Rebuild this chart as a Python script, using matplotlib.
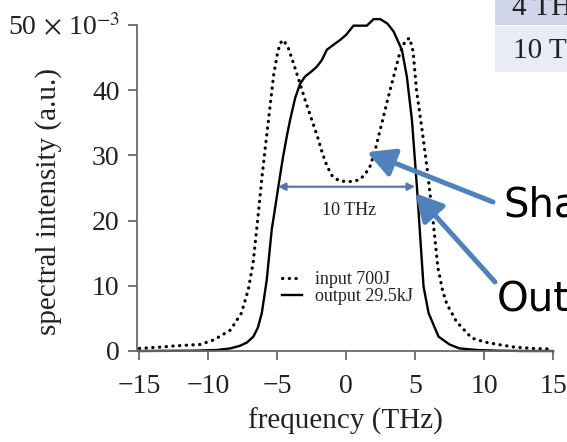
import matplotlib
matplotlib.use("Agg")
import matplotlib.pyplot as plt
from matplotlib.patches import Rectangle

# ---------------- data ----------------
freq_in = [-15, -13.5, -12.3, -10.6, -9.6, -8.4, -7.6, -7.1, -6.75, -6.4, -6.1, -5.85, -5.55, -5.25, -4.95,
           -4.75, -4.55, -4.2, -3.8, -3.35, -2.9, -2.5, -2.1, -1.75, -1.4, -1.0, -0.5, 0.0, 0.5, 1.0, 1.4,
           1.75, 2.1, 2.7, 3.0, 3.44, 3.9, 4.3, 4.6, 4.85, 5.1, 5.5, 5.9, 6.3, 6.65, 7.0, 7.3, 8.0, 9.1,
           10.0, 11.0, 12.2, 13.5, 15]
spec_in = [0.4, 0.6, 0.8, 1.0, 1.7, 3.2, 5.8, 9.4, 13.5, 20.5, 26.8, 31.5, 37.0, 42.5, 46.0,
           47.3, 47.7, 46.5, 44.0, 41.0, 38.0, 35.5, 33.0, 30.5, 28.4, 26.8, 26.1, 26.0, 26.0, 26.3, 27.2,
           28.4, 30.8, 35.9, 38.5, 42.1, 45.8, 47.6, 48.0, 46.0, 40.0, 34.0, 27.5, 20.0, 12.8, 9.2, 7.2, 4.5, 2.0,
           1.4, 1.0, 0.6, 0.4, 0.3]

freq_out = [-15, -11, -9.4, -8.4, -7.7, -7.2, -6.73, -6.4, -6.12, -5.76, -5.4, -5.15, -4.92, -4.6, -4.3, -4.07,
            -3.7, -3.34, -2.98, -2.5, -2.13, -1.77, -1.4, -0.9, -0.44, 0.0, 0.53, 1.5, 1.99, 2.47, 3.0, 3.44,
            4.04, 4.4, 4.77, 5.13, 5.37, 5.61, 5.98, 6.7, 7.5, 8.2, 9.5, 11, 13, 15]
spec_out = [0.0, 0.05, 0.15, 0.4, 0.8, 1.3, 2.2, 3.6, 5.8, 10.9, 18.6, 22.0, 25.2, 29.5, 33.0, 35.4,
            38.8, 41.0, 42.1, 42.9, 43.6, 44.6, 46.2, 47.0, 47.7, 48.5, 49.9, 49.9, 50.9, 50.9, 50.2, 49.0,
            46.2, 42.1, 35.4, 25.2, 17.5, 9.9, 5.8, 2.2, 1.0, 0.4, 0.15, 0.05, 0.0, 0.0]

labels = ["input 700J", "output 29.5kJ"]
xticks = [-15, -10, -5, 0, 5, 10, 15]
yticks = [0, 10, 20, 30, 40, 50]
ytick_labels = ["0", "10", "20", "30", "40", r"50$\,\times\,$10$^{-3}$"]
bandwidth = 10          # THz, width of the marked band
band_level = 25.2       # level of the marked band
band_center = 0.0
table_rows = ["4 TH", "10 T"]
callouts = ["Sha", "Outp"]
callout_targets = [(1.52, 30.5), (5.0, 24.2)]

# ---------------- style ----------------
plt.rcParams['font.family'] = ['Liberation Serif', 'DejaVu Serif']
plt.rcParams['mathtext.fontset'] = 'stix'

W, H = 567, 442
fig = plt.figure(figsize=(W / 100, H / 100), dpi=100)
fig.patch.set_facecolor('white')

ax = fig.add_axes([137 / W, 91 / H, 416 / W, 326 / H])
ax.plot(freq_in, spec_in, color='black', lw=2.3, linestyle=(0, (0.1, 2.0)), dash_capstyle='round',
        label=labels[0], clip_on=False)
ax.plot(freq_out, spec_out, color='black', lw=1.7, linestyle='-', label=labels[1], clip_on=False)

ax.set_xlim(-15.17, 15)
ax.set_ylim(0, 50)
ax.set_xticks(xticks)
ax.set_xticklabels([f"\u2212{abs(t)}" if t < 0 else str(t) for t in xticks])
ax.set_yticks(yticks)
ax.set_yticklabels(ytick_labels)

for s in ['top', 'right']:
    ax.spines[s].set_visible(False)
for s in ['left', 'bottom']:
    ax.spines[s].set_color('#6a6a6a')
    ax.spines[s].set_linewidth(1.3)
ax.tick_params(axis='both', colors='#6a6a6a', length=6.5, width=1.3, labelsize=20,
               labelcolor='#222222', direction='out')
ax.tick_params(axis='x', pad=10)
ax.tick_params(axis='y', pad=6)

ax.set_xlabel("frequency (THz)", fontsize=21, color='#222222')
ax.set_ylabel("spectral intensity (a.u.)", fontsize=21, color='#222222')
ax.xaxis.set_label_coords(0.5, -0.175)
ax.yaxis.set_label_coords(-0.18, 0.46)

leg = ax.legend(loc='upper left', bbox_to_anchor=(0.3486, 0.245), frameon=False, fontsize=13,
                borderpad=0, borderaxespad=0, handlelength=1.1, handletextpad=0.75,
                labelspacing=0.0)
for t in leg.get_texts():
    t.set_color('#222222')

# 10 THz band arrow
ax.annotate("", xy=(band_center + bandwidth / 2, band_level),
            xytext=(band_center - bandwidth / 2 + 0.05, band_level),
            arrowprops=dict(arrowstyle='<|-|>', color='#5577b0', lw=1.6, mutation_scale=11,
                            shrinkA=0, shrinkB=0))
ax.text(band_center + 0.2, band_level - 3.6, f"{bandwidth} THz", fontsize=13, ha='center', va='center',
        color='#222222')

# slide callouts
blue = '#4f81bd'
tails = [(493, H - 202), (495, H - 282)]
for tgt, tail in zip(callout_targets, tails):
    ax.annotate("", xy=tgt, xycoords='data', xytext=tail, textcoords='figure pixels',
                annotation_clip=False,
                arrowprops=dict(arrowstyle='-|>,head_length=0.75,head_width=0.4', color=blue,
                                lw=3.6, mutation_scale=22, shrinkA=0, shrinkB=0))

fig.text(503 / W, 1 - 216 / H, callouts[0], fontsize=29, family='DejaVu Sans', color='black',
         ha='left', va='baseline')
fig.text(497 / W, 1 - 311 / H, callouts[1], fontsize=29, family='DejaVu Sans', color='black',
         ha='left', va='baseline')

# table fragment (top right)
fig.add_artist(Rectangle((495 / W, 1 - 25 / H), 80 / W, 25 / H, transform=fig.transFigure,
                         facecolor='#cfd5ea', edgecolor='none'))
fig.add_artist(Rectangle((495 / W, 1 - 72 / H), 80 / W, 46 / H, transform=fig.transFigure,
                         facecolor='#e9ebf5', edgecolor='none'))
fig.text(512 / W, 1 - 15 / H, table_rows[0], fontsize=21, color='#222222', ha='left', va='baseline')
fig.text(513 / W, 1 - 58 / H, table_rows[1], fontsize=21, color='#222222', ha='left', va='baseline')

fig.savefig("out.png", dpi=100, facecolor='white')
